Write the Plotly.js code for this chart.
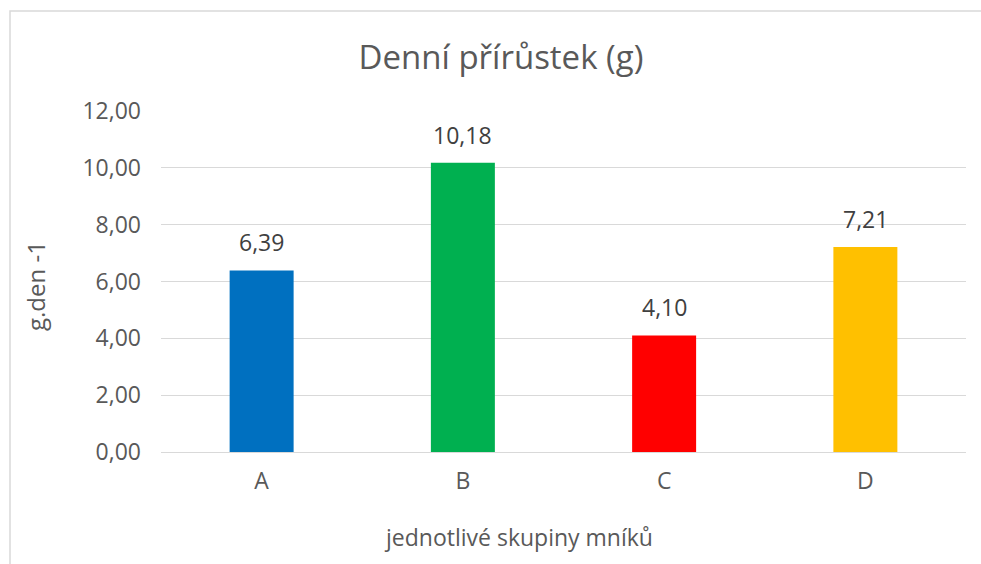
<!DOCTYPE html>
<html>
<head>
<meta charset="utf-8">
<script src="https://cdn.plot.ly/plotly-3.0.1.min.js"></script>
<style>
html,body{margin:0;padding:0;background:#fff;}
#chart{width:981px;height:564px;}
</style>
</head>
<body>
<div id="chart"></div>
<script>
const categories = ['A', 'B', 'C', 'D'];
const values = [6.39, 10.18, 4.10, 7.21];
const barColors = ['#0070C0', '#00B050', '#FF0000', '#FFC000'];
const yTicks = [0, 2, 4, 6, 8, 10, 12];
const xTitle = 'jednotlivé skupiny mníků';
const yTitle = 'g.den -1';
const chartTitle = 'Denní přírůstek (g)';

const FONT = '"Open Sans", Lato, "DejaVu Sans", sans-serif';

// plot-area geometry in pixels (for placing free-floating titles/frame)
const PL = 161, PR = 966, PT = 111, PB = 452;
const PW = PR - PL, PH = PB - PT;

const trace = {
  type: 'bar',
  x: categories,
  y: values,
  marker: {color: barColors},
  hoverinfo: 'x+y'
};

const annotations = categories.map((c, i) => ({
  x: c,
  y: values[i],
  xref: 'x',
  yref: 'y',
  text: values[i].toFixed(2).replace('.', ','),
  showarrow: false,
  yanchor: 'bottom',
  yshift: 10,
  font: {family: FONT, size: 23, color: '#404040'}
}));

annotations.push({
  text: xTitle,
  xref: 'paper', yref: 'paper',
  x: (518 - PL) / PW, y: (PB - 537) / PH,
  xanchor: 'center', yanchor: 'middle',
  showarrow: false,
  font: {family: FONT, size: 23, color: '#595959'}
});
annotations.push({
  text: yTitle,
  xref: 'paper', yref: 'paper',
  x: (35 - PL) / PW, y: (PB - 286) / PH,
  xanchor: 'center', yanchor: 'middle',
  textangle: -90,
  showarrow: false,
  font: {family: FONT, size: 24, color: '#595959'}
});

const layout = {
  width: 981,
  height: 564,
  margin: {l: PL, r: 981 - PR, t: PT, b: 564 - PB},
  paper_bgcolor: '#ffffff',
  plot_bgcolor: '#ffffff',
  separators: ', ',
  bargap: 0.682,
  showlegend: false,
  font: {family: FONT, color: '#595959'},
  title: {
    text: chartTitle,
    font: {family: FONT, size: 33, color: '#595959'},
    x: 501 / 981,
    xanchor: 'center',
    xref: 'container',
    y: 1 - 57 / 564,
    yanchor: 'middle',
    yref: 'container'
  },
  xaxis: {
    type: 'category',
    showgrid: false,
    showline: false,
    zeroline: false,
    ticks: '',
    ticklabelstandoff: 13,
    tickfont: {family: FONT, size: 23, color: '#595959'}
  },
  yaxis: {
    range: [0, 12],
    tickvals: yTicks,
    tickformat: '.2f',
    showgrid: true,
    gridcolor: '#d9d9d9',
    gridwidth: 1,
    zeroline: true,
    zerolinecolor: '#d9d9d9',
    zerolinewidth: 1,
    showline: false,
    ticks: '',
    ticklabelstandoff: 19,
    tickfont: {family: FONT, size: 23, color: '#595959'}
  },
  annotations: annotations,
  shapes: [{
    type: 'rect',
    xref: 'paper',
    yref: 'paper',
    x0: (10 - PL) / PW,
    x1: (1000 - PL) / PW,
    y0: (PB - 600) / PH,
    y1: (PB - 11) / PH,
    line: {color: '#d9d9d9', width: 1.5},
    fillcolor: 'rgba(0,0,0,0)',
    layer: 'below'
  }]
};

Plotly.newPlot('chart', [trace], layout, {displayModeBar: false, staticPlot: true});
</script>
</body>
</html>
